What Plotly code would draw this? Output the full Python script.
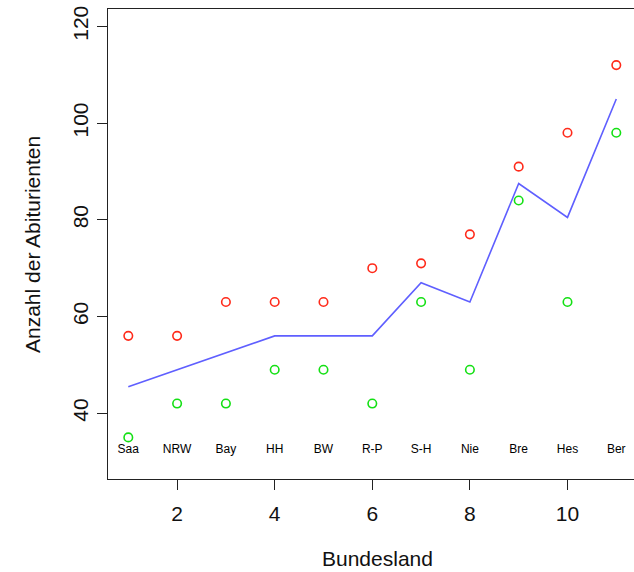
import plotly.graph_objects as go

# Bundesland index and short names
bundesland = [1, 2, 3, 4, 5, 6, 7, 8, 9, 10, 11]
kuerzel = ["Saa", "NRW", "Bay", "HH", "BW", "R-P", "S-H", "Nie", "Bre", "Hes", "Ber"]

# Two groups of Abiturienten per Bundesland, plus their mean
gruppe_rot = [56, 56, 63, 63, 63, 70, 71, 77, 91, 98, 112]
gruppe_gruen = [35, 42, 42, 49, 49, 42, 63, 49, 84, 63, 98]
mittel = [45.5, 49, 52.5, 56, 56, 56, 67, 63, 87.5, 80.5, 105]

# height at which the short names are written
label_y = [32.5] * len(bundesland)

x_ticks = [2, 4, 6, 8, 10]
y_ticks = [40, 60, 80, 100, 120]

FONT = "Liberation Sans, Arial, Helvetica, sans-serif"
AXIS = "#222222"

fig = go.Figure()

fig.add_trace(go.Scatter(
    x=bundesland, y=gruppe_rot, mode="markers",
    marker=dict(symbol="circle-open", size=8.5, color="#FF2A1A", line=dict(width=1.6)),
    showlegend=False, hoverinfo="skip",
))
fig.add_trace(go.Scatter(
    x=bundesland, y=gruppe_gruen, mode="markers",
    marker=dict(symbol="circle-open", size=8.5, color="#14E014", line=dict(width=1.6)),
    showlegend=False, hoverinfo="skip",
))
fig.add_trace(go.Scatter(
    x=bundesland, y=mittel, mode="lines",
    line=dict(color="#5F5FFF", width=1.6),
    showlegend=False, hoverinfo="skip",
))
fig.add_trace(go.Scatter(
    x=bundesland, y=label_y, mode="text", text=kuerzel,
    textposition="middle center",
    textfont=dict(family=FONT, size=12, color="#000000"),
    showlegend=False, hoverinfo="skip",
))

fig.update_layout(
    width=634, height=572,
    margin=dict(l=108, r=0, t=9, b=93, autoexpand=False),
    paper_bgcolor="white", plot_bgcolor="white",
    font=dict(family=FONT, size=21, color="#111111"),
    showlegend=False,
    xaxis=dict(
        range=[0.584, 11.363], tickmode="array", tickvals=x_ticks,
        ticktext=[str(v) for v in x_ticks],
        showgrid=False, zeroline=False,
        showline=True, linecolor=AXIS, linewidth=1.3, mirror=True,
        ticks="outside", ticklen=10, tickwidth=1.2, tickcolor=AXIS,
        tickfont=dict(family=FONT, size=21, color="#111111"),
        ticklabelstandoff=6,
        automargin=False,
    ),
    yaxis=dict(
        range=[26.4, 123.6], tickmode="array", tickvals=y_ticks,
        ticktext=[str(v) for v in y_ticks],
        showgrid=False, zeroline=False,
        showline=True, linecolor=AXIS, linewidth=1.3, mirror=False,
        ticks="outside", ticklen=10, tickwidth=1.2, tickcolor=AXIS,
        tickangle=-90,
        tickfont=dict(family=FONT, size=21, color="#111111"),
        automargin=False,
    ),
    annotations=[
        dict(text="Bundesland", xref="paper", yref="paper",
             x=0.513, y=-0.170, xanchor="center", yanchor="middle",
             showarrow=False, font=dict(family=FONT, size=21, color="#111111")),
        dict(text="Anzahl der Abiturienten", xref="paper", yref="paper",
             x=-0.1445, y=0.5, xanchor="center", yanchor="middle", textangle=-90,
             showarrow=False, font=dict(family=FONT, size=21, color="#111111")),
    ],
)

fig.write_html("out.html")
